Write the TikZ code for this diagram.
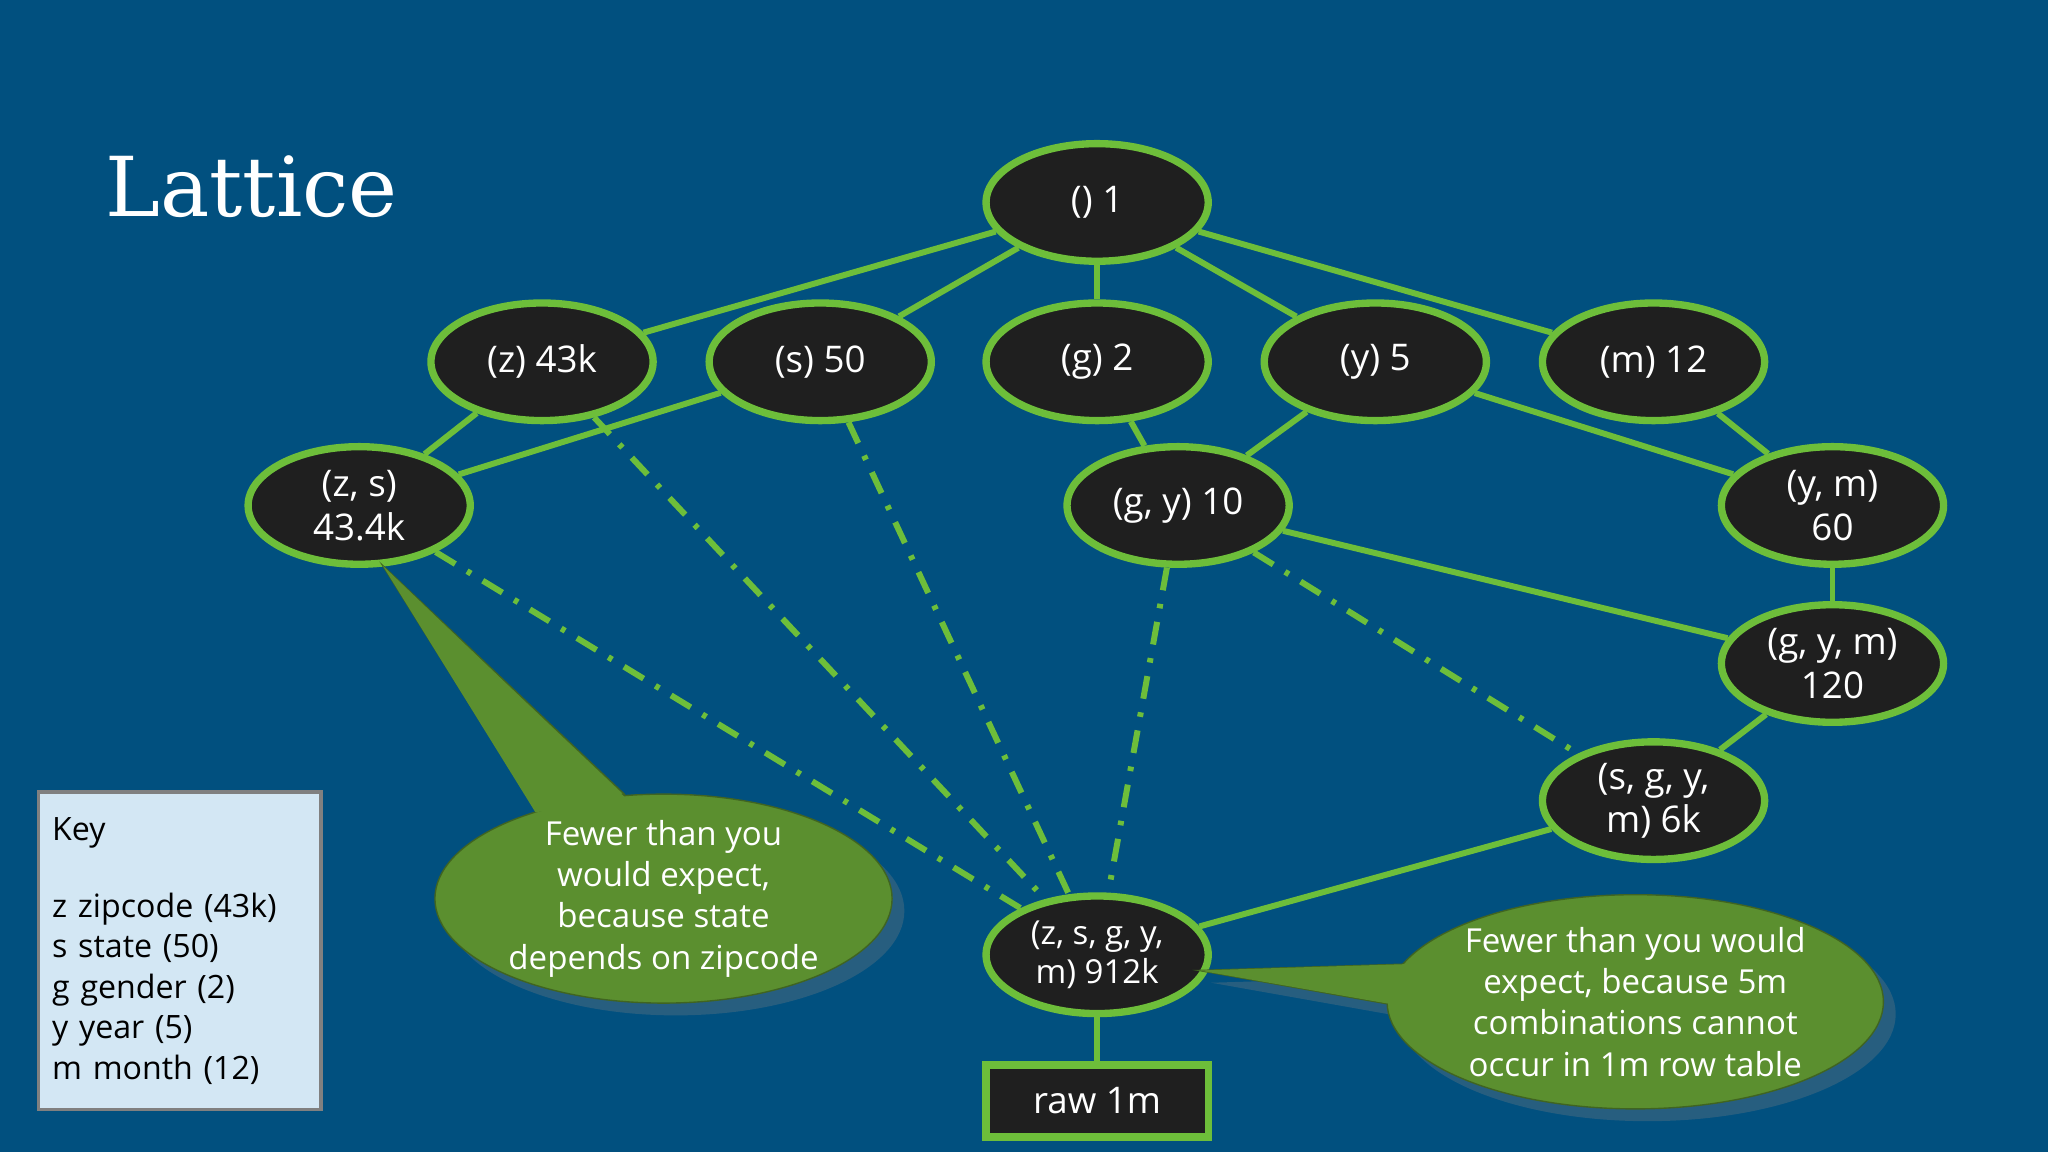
\documentclass[tikz,border=0pt]{standalone}
\usepackage{fontspec}
\setmainfont{Open Sans}
\newfontfamily\titlefont{DejaVu Serif}
\usetikzlibrary{shapes.geometric,shadows,backgrounds}
\definecolor{bg}{HTML}{01507F}
\definecolor{lg}{HTML}{6DBE3A}
\definecolor{cg}{HTML}{5B8F2F}
\definecolor{keyb}{HTML}{D3E7F4}
\begin{document}
\begin{tikzpicture}[x=0.01cm,y=-0.01cm,
  nd/.style={ellipse,draw=lg,line width=1.6pt,fill=black!88,text=white,minimum width=1.7cm,minimum height=0.9cm,inner sep=0pt,font=\fontsize{8}{9.5}\selectfont,align=center},
  ed/.style={lg,line width=1.3pt},
  dd/.style={lg,line width=1.3pt,dash pattern=on 5pt off 3pt on 1pt off 3pt},
  co/.style={fill=cg,draw=cg!70!black,line width=0.3pt},
  ct/.style={text=white,font=\fontsize{7.2}{9}\selectfont,align=center}]
\node[anchor=west,text=white,font=\titlefont\fontsize{18}{20}\selectfont,inner sep=0pt] (title) at (80,143) {Lattice};
\node[nd] (top) at (840,155) {() 1};
\node[nd] (z) at (415,277) {(z) 43k};
\node[nd] (s) at (628,277) {(s) 50};
\node[nd] (g) at (840,277) {(g) 2};
\node[nd] (y) at (1053,277) {(y) 5};
\node[nd] (m) at (1266,277) {(m) 12};
\node[nd] (zs) at (275,387) {(z, s)\\43.4k};
\node[nd] (gy) at (902,387) {(g, y) 10};
\node[nd] (ym) at (1403,387) {(y, m)\\60};
\node[nd] (gym) at (1403,508) {(g, y, m)\\120};
\node[nd] (sgym) at (1266,613) {(s, g, y,\\m) 6k};
\node[nd,font=\fontsize{7.2}{8.5}\selectfont] (all) at (840,731) {(z, s, g, y,\\m) 912k};
\node[draw=lg,line width=1.6pt,fill=black!88,text=white,minimum width=1.7cm,minimum height=0.55cm,font=\fontsize{8}{9.5}\selectfont] (raw) at (840,843) {raw 1m};
\begin{scope}[on background layer]
\fill[bg] (0,0) rectangle (1568,882);
\foreach \a/\b in {top/z,top/s,top/g,top/y,top/m,z/zs,s/zs,g/gy,y/gy,y/ym,m/ym,ym/gym,gy/gym,gym/sgym,sgym/all,all/raw}
  \draw[ed] (\a) -- (\b);
\foreach \a in {zs,z,s,gy} \draw[dd] (\a) -- (all);
\draw[dd] (gy) -- (sgym);
\end{scope}
% callouts
\coordinate (p1) at (293,433);
\coordinate (p2) at (918,743);
\fill[co,drop shadow={opacity=0.3}] (410,620) -- (p1) -- (478,608) -- cycle;
\fill[co,drop shadow={opacity=0.3}] (508,688) ellipse (175 and 80);
\fill[cg] (410,622) -- (p1) -- (478,610) -- cycle;
\node[ct] (c1) at (508,688) {Fewer than you\\would expect,\\because state\\depends on zipcode};
\fill[co,drop shadow={opacity=0.3}] (1080,738) -- (p2) -- (1070,770) -- cycle;
\fill[co,drop shadow={opacity=0.3}] (1252,767) ellipse (190 and 82);
\fill[cg] (1082,738) -- (p2) -- (1072,770) -- cycle;
\node[ct] (c2) at (1252,767) {Fewer than you would\\expect, because 5m\\combinations cannot\\occur in 1m row table};
% key
\node[draw=gray,line width=0.8pt,fill=keyb,minimum width=2.15cm,minimum height=2.43cm,anchor=north west,align=left,text width=1.95cm,font=\fontsize{7}{8.8}\selectfont,inner sep=3pt] (key) at (28,605) {Key\\[8pt]z zipcode (43k)\\s state (50)\\g gender (2)\\y year (5)\\m month (12)};
\end{tikzpicture}
\end{document}
